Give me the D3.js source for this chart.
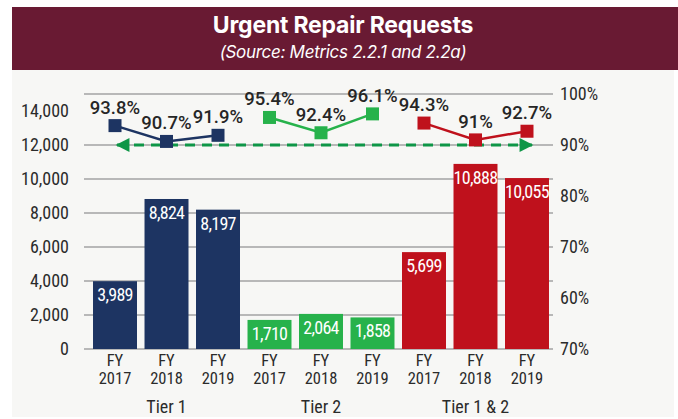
<!DOCTYPE html>
<html>
<head>
<meta charset="utf-8">
<script src="https://cdn.jsdelivr.net/npm/d3@7"></script>
<style>
  html, body { margin: 0; padding: 0; background: #ffffff; }
  svg { display: block; }
</style>
</head>
<body>
<svg id="chart" width="678" height="419"></svg>
<script>
// ---------- data ----------
const groups = ["Tier 1", "Tier 2", "Tier 1 & 2"];
const years = ["2017", "2018", "2019"];
const tier1Counts = [3989, 8824, 8197];
const tier2Counts = [1710, 2064, 1858];
const tier12Counts = [5699, 10888, 10055];
const tier1Pct = [93.8, 90.7, 91.9];
const tier2Pct = [95.4, 92.4, 96.1];
const tier12Pct = [94.3, 91, 92.7];
const tier1PctLabels = ["93.8%", "90.7%", "91.9%"];
const tier2PctLabels = ["95.4%", "92.4%", "96.1%"];
const tier12PctLabels = ["94.3%", "91%", "92.7%"];
const targetPct = 90;
const leftTicks = [0, 2000, 4000, 6000, 8000, 10000, 12000, 14000];
const gridValues = [0, 2000, 4000, 6000, 8000, 10000, 12000, 15000];
const rightTickValues = [100, 90, 80, 70, 60, 50];
const rightTickLabels = ["100%", "90%", "80%", "70%", "60%", "70%"];
const groupColors = ["#1d3462", "#27b24b", "#bf111c"];
const title = "Urgent Repair Requests";
const subtitle = "(Source: Metrics 2.2.1 and 2.2a)";

// ---------- setup ----------
const svg = d3.select("#chart");
const COND = "'Liberation Sans Narrow', 'Roboto Condensed', Roboto, sans-serif";

// panel background
svg.append("rect").attr("x", 12).attr("y", 70).attr("width", 662).attr("height", 347).attr("fill", "#f7f7f5");
// banner
svg.append("rect").attr("x", 12).attr("y", 7).attr("width", 666).attr("height", 63).attr("fill", "#691a33");
svg.append("text").attr("x", 343).attr("y", 33).attr("text-anchor", "middle")
  .attr("fill", "#ffffff").attr("font-family", "Inter, Roboto, sans-serif").attr("font-weight", 700)
  .attr("font-size", 23).attr("letter-spacing", -0.2).text(title);
svg.append("text").attr("x", 343).attr("y", 58).attr("text-anchor", "middle")
  .attr("fill", "#ffffff").attr("font-family", "Inter, Roboto, sans-serif").attr("font-style", "italic")
  .attr("font-size", 17).attr("letter-spacing", -0.3).text(subtitle);

const series = [
  { group: groups[0], counts: tier1Counts, pct: tier1Pct, labels: tier1PctLabels, color: groupColors[0] },
  { group: groups[1], counts: tier2Counts, pct: tier2Pct, labels: tier2PctLabels, color: groupColors[1] },
  { group: groups[2], counts: tier12Counts, pct: tier12Pct, labels: tier12PctLabels, color: groupColors[2] }
];

const bars = [];
series.forEach((s, gi) => {
  years.forEach((yr, i) => {
    bars.push({ key: s.group + "|" + yr, group: s.group, gi, year: yr, count: s.counts[i], pct: s.pct[i], label: s.labels[i], color: s.color });
  });
});

const x = d3.scaleBand().domain(bars.map(d => d.key)).range([89, 553]).paddingInner(0.146).paddingOuter(0.078);
const yL = d3.scaleLinear().domain([0, 15000]).range([349, 94]);
const yR = d3.scaleLinear().domain([50, 100]).range([349, 94]);
const cx = d => x(d.key) + x.bandwidth() / 2;

// gridlines
svg.append("g").selectAll("line").data(gridValues).join("line")
  .attr("x1", 84).attr("x2", 553)
  .attr("y1", d => yL(d)).attr("y2", d => yL(d))
  .attr("stroke", "#a3a3a3").attr("stroke-width", 1.5);

// left axis
const axL = svg.append("g").attr("transform", "translate(84,0)")
  .call(d3.axisLeft(yL).tickValues(leftTicks).tickSize(0).tickPadding(15).tickFormat(d3.format(",")));
axL.select(".domain").remove();
axL.selectAll("text").attr("font-size", 18).attr("fill", "#2b2b2b").attr("font-family", COND);

// right axis
const axR = svg.append("g").attr("transform", "translate(553,0)")
  .call(d3.axisRight(yR).tickValues(rightTickValues).tickSize(0).tickPadding(7)
    .tickFormat((d, i) => rightTickLabels[i]));
axR.select(".domain").remove();
axR.selectAll("text").attr("font-size", 18).attr("fill", "#2b2b2b").attr("font-family", COND);

// bars
svg.append("g").selectAll("rect").data(bars).join("rect")
  .attr("x", d => x(d.key)).attr("width", x.bandwidth())
  .attr("y", d => yL(d.count)).attr("height", d => yL(0) - yL(d.count))
  .attr("fill", d => d.color);

// bar value labels
svg.append("g").selectAll("text").data(bars).join("text")
  .attr("x", cx).attr("y", d => yL(d.count) + 20)
  .attr("text-anchor", "middle").attr("fill", "#ffffff").attr("font-size", 18).attr("letter-spacing", -0.7)
  .attr("font-family", COND)
  .text(d => d3.format(",")(d.count));

// x labels (two lines)
svg.append("g").selectAll("text").data(bars).join("text")
  .attr("x", cx).attr("y", 366)
  .attr("text-anchor", "middle").attr("fill", "#2b2b2b").attr("font-size", 16.5).attr("font-family", COND)
  .text("FY");
svg.append("g").selectAll("text").data(bars).join("text")
  .attr("x", cx).attr("y", 384)
  .attr("text-anchor", "middle").attr("fill", "#2b2b2b").attr("font-size", 16.5).attr("font-family", COND)
  .text(d => d.year);

// group labels (centered on middle bar)
svg.append("g").selectAll("text").data(series).join("text")
  .attr("x", s => x(s.group + "|" + years[1]) + x.bandwidth() / 2).attr("y", 413)
  .attr("text-anchor", "middle").attr("fill", "#2b2b2b").attr("font-size", 18).attr("font-family", COND)
  .text(s => s.group);

// target dashed line with arrows
const defs = svg.append("defs");
defs.append("marker").attr("id", "arrow").attr("viewBox", "0 0 10 10").attr("refX", 9).attr("refY", 5)
  .attr("markerWidth", 5.5).attr("markerHeight", 4.6).attr("markerUnits", "strokeWidth").attr("orient", "auto-start-reverse")
  .append("path").attr("d", "M0,0 L10,5 L0,10 Z").attr("fill", "#0e9647");
const firstX = cx(bars[0]);
const lastX = cx(bars[bars.length - 1]) + 5;
svg.append("line").attr("x1", firstX + 2).attr("x2", lastX)
  .attr("y1", yR(targetPct)).attr("y2", yR(targetPct))
  .attr("stroke", "#0e9647").attr("stroke-width", 3).attr("stroke-dasharray", "10,7")
  .attr("marker-start", "url(#arrow)").attr("marker-end", "url(#arrow)");

// percent lines
const line = d3.line().x(cx).y(d => yR(d.pct));
series.forEach(s => {
  const pts = bars.filter(b => b.group === s.group);
  svg.append("path").datum(pts).attr("d", line).attr("fill", "none")
    .attr("stroke", s.color).attr("stroke-width", 2.5);
  svg.append("g").selectAll("rect").data(pts).join("rect")
    .attr("x", d => cx(d) - 6.5).attr("y", d => yR(d.pct) - 6.5)
    .attr("width", 13).attr("height", 13).attr("fill", s.color);
  svg.append("g").selectAll("text").data(pts).join("text")
    .attr("x", cx).attr("y", d => yR(d.pct) - 12)
    .attr("text-anchor", "middle").attr("fill", "#262626").attr("font-size", 18.5).attr("font-weight", 500)
    .attr("font-family", "Roboto, sans-serif")
    .text(d => d.label);
});
</script>
</body>
</html>
